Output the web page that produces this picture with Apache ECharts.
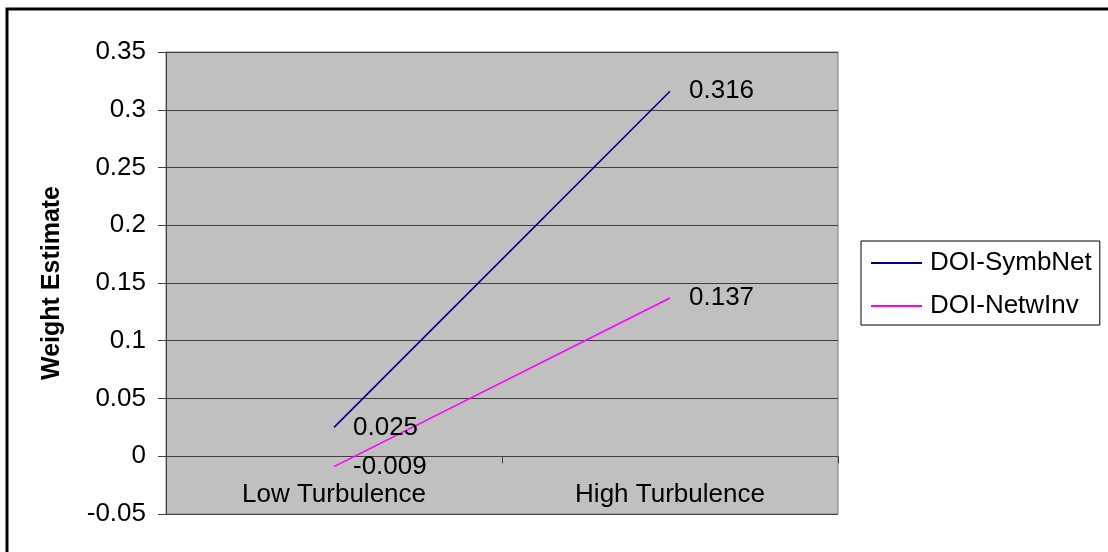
<!DOCTYPE html>
<html>
<head>
<meta charset="utf-8">
<script src="https://cdn.jsdelivr.net/npm/echarts@6/dist/echarts.min.js"></script>
<style>
  html, body { margin: 0; padding: 0; background: #ffffff; }
  #chart { width: 1108px; height: 552px; }
</style>
</head>
<body>
<div id="chart"></div>
<script>
const categories = ["Low Turbulence", "High Turbulence"];
const symbNet = [0.025, 0.316];
const netwInv = [-0.009, 0.137];

const FONT = '"Liberation Sans", Arial, sans-serif';
const INK = "#000000";
const GRID = "#404040";

const chart = echarts.init(document.getElementById("chart"));

// Excel-style line: no markers, value label to the right of each point
function lineSeries(name, data, color) {
  return {
    name,
    type: "line",
    data,
    symbol: "circle",
    symbolSize: 0,
    itemStyle: { color },
    lineStyle: { color, width: 1.6 },
    label: {
      show: true,
      position: "right",
      distance: 19,
      color: INK,
      fontSize: 26,
      fontFamily: FONT,
    },
  };
}

chart.setOption({
  animation: false,
  textStyle: { fontFamily: FONT },
  graphic: [
    {
      type: "rect",
      shape: { x: 7, y: 9, width: 1200, height: 700 },
      style: { fill: "none", stroke: "#000", lineWidth: 3 },
      silent: true,
    },
  ],
  grid: {
    left: 166,
    top: 52,
    width: 672,
    height: 462,
    outerBoundsMode: "none",
    show: true,
    backgroundColor: "#c0c0c0",
    borderColor: "#808080",
    borderWidth: 1,
  },
  legend: {
    left: 861,
    top: 241,
    orient: "vertical",
    borderColor: "#000",
    borderWidth: 1,
    padding: [9, 8, 6, 10],
    itemGap: 17,
    itemWidth: 51,
    itemHeight: 2,
    icon: "rect",
    textStyle: { color: INK, fontSize: 26, lineHeight: 26, padding: [0, 0, 0, 3] },
    data: ["DOI-SymbNet", "DOI-NetwInv"],
  },
  xAxis: {
    type: "category",
    data: categories,
    boundaryGap: true,
    axisLine: { onZero: true, lineStyle: { color: GRID, width: 1 } },
    axisTick: { show: true, length: 7, lineStyle: { color: GRID } },
    // labels sit just under the zero line, inside the plot
    axisLabel: { color: INK, fontSize: 26, margin: -32 },
    splitLine: { show: false },
  },
  yAxis: {
    type: "value",
    min: -0.05,
    max: 0.35,
    interval: 0.05,
    name: "Weight Estimate",
    nameLocation: "middle",
    nameRotate: 90,
    nameGap: 101,
    nameTextStyle: { color: INK, fontSize: 25, fontWeight: "bold" },
    axisLine: { show: true, lineStyle: { color: GRID, width: 1 } },
    axisTick: { show: true, length: 8, lineStyle: { color: GRID } },
    axisLabel: {
      color: INK,
      fontSize: 26,
      margin: 20,
      formatter: (v) => String(+v.toFixed(2)),
    },
    splitLine: { show: true, lineStyle: { color: GRID, width: 1 } },
  },
  series: [
    lineSeries("DOI-SymbNet", symbNet, "#000080"),
    lineSeries("DOI-NetwInv", netwInv, "#ff00ff"),
  ],
});
</script>
</body>
</html>
